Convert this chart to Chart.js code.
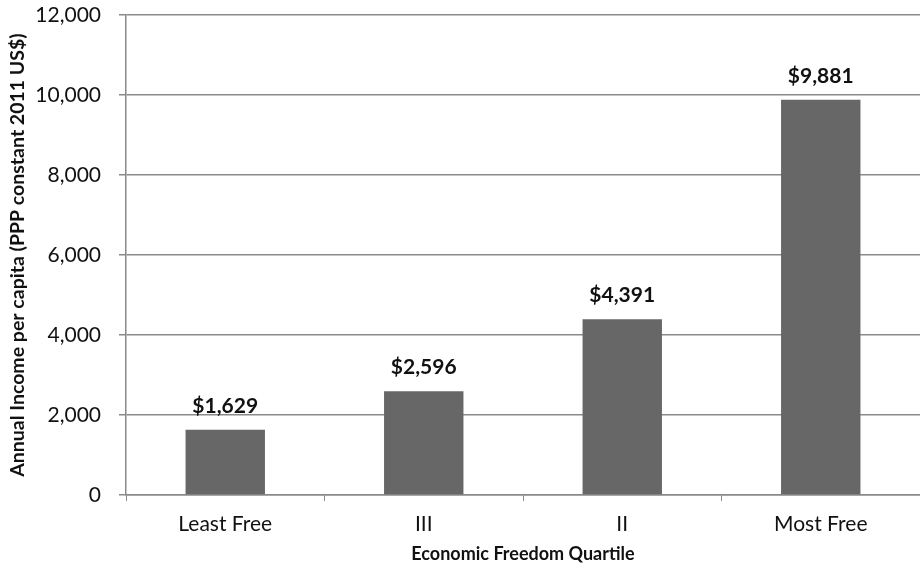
<!DOCTYPE html>
<html>
<head>
<meta charset="utf-8">
<script src="https://cdn.jsdelivr.net/npm/chart.js@4"></script>
<style>
  html, body { margin: 0; padding: 0; background: #fff; }
  #wrap { width: 920px; height: 566px; }
</style>
</head>
<body>
<div id="wrap"><canvas id="income-chart" width="920" height="566"></canvas></div>
<script>
// Income by freedom quartile
const quartiles = ['Least Free', 'III', 'II', 'Most Free'];
const incomes = [1629, 2596, 4391, 9881];
const yTicks = [0, 2000, 4000, 6000, 8000, 10000, 12000];

const FONT = 'Lato, "Open Sans", sans-serif';
const AXIS_GREY = '#8a8a8a';

// dollar labels above each bar
const barLabels = {
    id: 'barLabels',
    afterDatasetsDraw(chart) {
        const ctx = chart.ctx;
        const meta = chart.getDatasetMeta(0);
        ctx.save();
        ctx.font = 'bold 21px ' + FONT;
        ctx.fillStyle = '#111';
        ctx.textAlign = 'center';
        ctx.textBaseline = 'alphabetic';
        meta.data.forEach((bar, i) => {
            ctx.fillText('$' + incomes[i].toLocaleString('en-US'), bar.x, bar.y - 17);
        });
        ctx.restore();
    }
};

new Chart(document.getElementById('income-chart'), {
    type: 'bar',
    data: {
        labels: quartiles,
        datasets: [{
            data: incomes,
            backgroundColor: '#676767',
            categoryPercentage: 1,
            barPercentage: 0.4
        }]
    },
    options: {
        responsive: false,
        animation: false,
        layout: { padding: { top: 15, right: 0, left: 0, bottom: 0 } },
        plugins: { legend: { display: false }, tooltip: { enabled: false } },
        scales: {
            x: {
                grid: {
                    offset: true,
                    drawOnChartArea: false,
                    drawTicks: true,
                    tickLength: 6,
                    color: AXIS_GREY
                },
                border: { color: AXIS_GREY, width: 1.5 },
                ticks: { color: '#111', font: { family: FONT, size: 21 }, padding: 11 },
                title: {
                    display: true,
                    text: 'Economic Freedom Quartile',
                    color: '#111',
                    font: { family: FONT, size: 18, weight: 'bold' },
                    padding: { top: 0, bottom: 1 }
                },
                afterFit(scale) {
                    scale.height = 71;
                    scale.paddingLeft = 0;
                    scale.paddingRight = 0;
                }
            },
            y: {
                min: 0,
                max: 12000,
                afterBuildTicks(scale) { scale.ticks = yTicks.map(v => ({ value: v })); },
                grid: { color: AXIS_GREY, lineWidth: 1.5, tickLength: 7 },
                border: { color: AXIS_GREY, width: 1.5 },
                ticks: {
                    color: '#111',
                    font: { family: FONT, size: 21 },
                    padding: 18,
                    callback: v => v.toLocaleString('en-US')
                },
                title: {
                    display: true,
                    text: 'Annual Income per capita (PPP constant 2011 US$)',
                    color: '#111',
                    font: { family: FONT, size: 19.5, weight: 'bold' },
                    padding: { top: 6, bottom: 0 }
                },
                afterFit(scale) {
                    scale.width = 126;
                    scale.paddingTop = 0;
                    scale.paddingBottom = 0;
                }
            }
        }
    },
    plugins: [barLabels]
});
</script>
</body>
</html>
